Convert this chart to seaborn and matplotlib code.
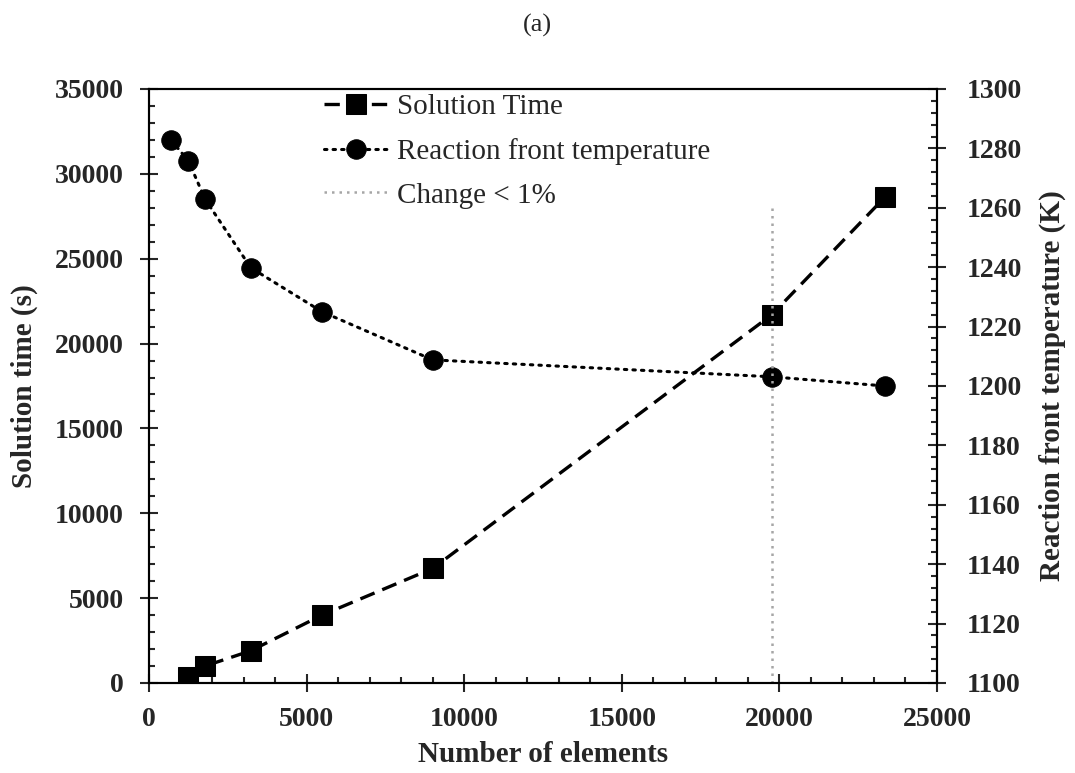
import matplotlib
matplotlib.use("Agg")
import matplotlib.pyplot as plt
import seaborn as sns
import pandas as pd
from matplotlib.ticker import MultipleLocator

# ---- data ----
time_elements = [1250, 1780, 3230, 5490, 9000, 19760, 23360]
solution_time = [370, 1000, 1900, 4000, 6750, 21700, 28650]

temp_elements = [700, 1250, 1780, 3230, 5490, 9000, 19760, 23360]
front_temp = [1282.8, 1275.8, 1262.9, 1239.8, 1225.0, 1208.8, 1203.1, 1200.0]

change_x = [19760, 19760]
change_y = [1100, 1260]

series_labels = ["Solution Time", "Reaction front temperature", "Change < 1%"]
x_label = "Number of elements"
y_left_label = "Solution time (s)"
y_right_label = "Reaction front temperature (K)"
title = "(a)"

# ---- style ----
sns.set_theme(style="ticks")
plt.rcParams["font.family"] = ["Liberation Serif", "DejaVu Serif"]
plt.rcParams["axes.linewidth"] = 1.5

fig = plt.figure(figsize=(10.75, 7.73), dpi=100)
ax = fig.add_axes([149/1075, 1-683/773, (937-149)/1075, (683-89)/773])
ax2 = ax.twinx()

df_time = pd.DataFrame({"x": time_elements, "y": solution_time})
df_temp = pd.DataFrame({"x": temp_elements, "y": front_temp})
df_change = pd.DataFrame({"x": change_x, "y": change_y})

sns.lineplot(data=df_time, x="x", y="y", ax=ax, estimator=None, sort=False,
             color="black", linewidth=2.4, linestyle=(0, (4.6, 2.5)),
             marker="s", markersize=14, markeredgecolor="black",
             markerfacecolor="black", label=series_labels[0], legend=False)

sns.lineplot(data=df_temp, x="x", y="y", ax=ax2, estimator=None, sort=False,
             color="black", linewidth=2.2, linestyle=(0, (0.8, 2.0)),
             dash_capstyle="round",
             marker="o", markersize=14, markeredgecolor="black",
             markerfacecolor="black", label=series_labels[1], legend=False)

sns.lineplot(data=df_change, x="x", y="y", ax=ax2, estimator=None, sort=False,
             color="#a6a6a6", linewidth=1.8, linestyle=(0, (1, 2.0)),
             label=series_labels[2], legend=False)

# ---- axes ----
ax.set_xlim(0, 25000)
ax.set_ylim(0, 35000)
ax2.set_ylim(1100, 1300)

ax.xaxis.set_major_locator(MultipleLocator(5000))
ax.xaxis.set_minor_locator(MultipleLocator(1000))
ax.yaxis.set_major_locator(MultipleLocator(5000))
ax.yaxis.set_minor_locator(MultipleLocator(1000))
ax2.yaxis.set_major_locator(MultipleLocator(20))
ax2.yaxis.set_minor_locator(MultipleLocator(4))

tick_fs = 20
ax.tick_params(axis="x", which="major", direction="inout", length=13, width=1.5,
               labelsize=tick_fs, pad=11, top=False)
ax.tick_params(axis="x", which="minor", direction="in", length=4.5, width=1.5, top=False)
ax.tick_params(axis="y", which="major", direction="inout", length=13, width=1.5,
               labelsize=tick_fs, pad=11.5, right=False)
ax.tick_params(axis="y", which="minor", direction="in", length=4.5, width=1.5, right=False)
ax2.tick_params(axis="y", which="major", direction="inout", length=13, width=1.5,
                labelsize=tick_fs, pad=15)
ax2.tick_params(axis="y", which="minor", direction="in", length=4.5, width=1.5)

for lab in ax.get_xticklabels() + ax.get_yticklabels() + ax2.get_yticklabels():
    lab.set_fontweight("bold")

for a in (ax, ax2):
    for s in a.spines.values():
        s.set_visible(True)
        s.set_linewidth(1.5)
        s.set_color("black")

ax.set_xlabel(x_label, fontsize=21, fontweight="bold", labelpad=6)
ax.set_ylabel(y_left_label, fontsize=21, fontweight="bold", labelpad=12)
ax2.set_ylabel(y_right_label, fontsize=21, fontweight="bold", labelpad=12)

# ---- legend ----
h1, l1 = ax.get_legend_handles_labels()
h2, l2 = ax2.get_legend_handles_labels()
leg = ax2.legend(h1 + h2, l1 + l2, loc="upper left",
                 bbox_to_anchor=(0.189, 1.036), frameon=False, fontsize=21,
                 handlelength=2.2, handletextpad=0.3, labelspacing=0.6,
                 numpoints=1)

fig.text(0.5, 1 - 25/773, title, ha="center", va="center", fontsize=19)

fig.savefig("out.png", dpi=100)
